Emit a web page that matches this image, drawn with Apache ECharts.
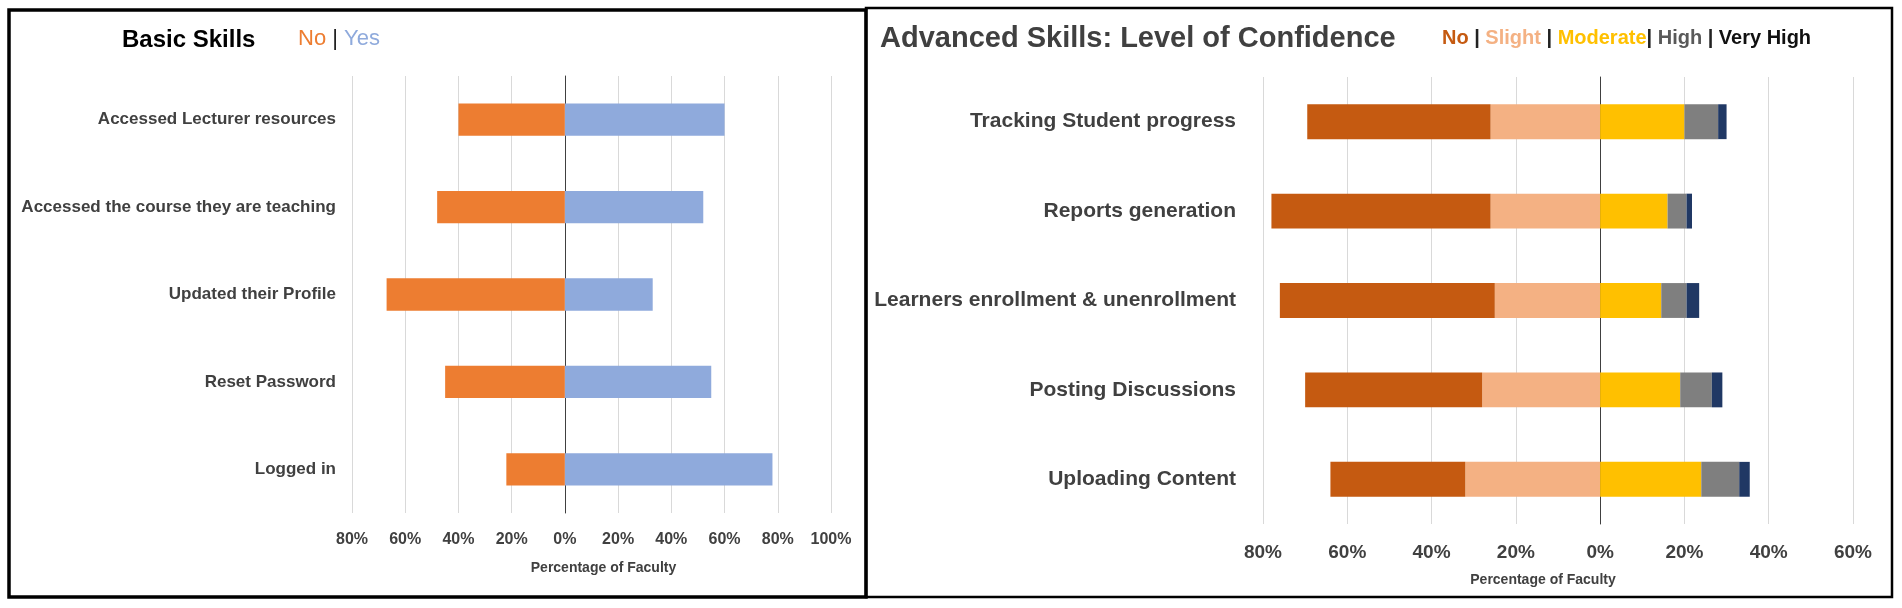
<!DOCTYPE html>
<html>
<head>
<meta charset="utf-8">
<script src="https://cdn.jsdelivr.net/npm/echarts@6/dist/echarts.min.js"></script>
<style>
  html, body { margin: 0; background: #fff; }
  #main { width: 1902px; height: 608px; }
</style>
</head>
<body>
<div id="main"></div>
<script>
// left panel: basic skills
const basicSkills = [
  "Accessed Lecturer resources",
  "Accessed the course they are teaching",
  "Updated their Profile",
  "Reset Password",
  "Logged in",
];
const basicLegend = ["No", "Yes"];
const basicNo = [40, 48, 67, 45, 22];
const basicYes = [60, 52, 33, 55, 78];
const basicRange = [-80, 100];

// right panel: advanced skills, level of confidence
const advSkills = [
  "Tracking Student progress",
  "Reports generation",
  "Learners enrollment & unenrollment",
  "Posting Discussions",
  "Uploading Content",
];
const advLegend = ["No", "Slight", "Moderate", "High", "Very High"];
const advNo = [43.5, 52, 51, 42, 32];
const advSlight = [26, 26, 25, 28, 32];
const advModerate = [20, 16, 14.5, 19, 24];
const advHigh = [8, 4.5, 6, 7.5, 9];
const advVeryHigh = [2, 1.3, 3, 2.5, 2.5];
const advRange = [-80, 60];

const tickStep = 20;

const basicColors = ["#ED7D31", "#8FAADC"];
const advColors = ["#C55A11", "#F4B183", "#FFC000", "#7F7F7F", "#203864"];
const advTextColors = ["#C55A11", "#F4B183", "#FFC000", "#595959", "#111111"];

const chart = echarts.init(document.getElementById("main"));
const font = "Liberation Sans, Arial, sans-serif";
const pct = (v) => Math.abs(v) + "%";

// legend strings like "No | Yes" built as rich text
function legendText(names, seps) {
  return names
    .map((n, i) => "{c" + i + "|" + n + "}" + (i < names.length - 1 ? "{s|" + seps[i] + "}" : ""))
    .join("");
}
function legendRich(colors, size, weight) {
  const rich = { s: { color: "#222", fontSize: size, fontWeight: weight, fontFamily: font } };
  colors.forEach((c, i) => {
    rich["c" + i] = { color: c, fontSize: size, fontWeight: weight, fontFamily: font };
  });
  return rich;
}

function valueAxis(gridIndex, range, fontSize, nameSize, nameGap, namePad) {
  return {
    type: "value",
    gridIndex: gridIndex,
    min: range[0],
    max: range[1],
    interval: tickStep,
    axisLine: { show: false },
    axisTick: { show: false },
    splitLine: { lineStyle: { color: "#D9D9D9", width: 1 } },
    axisLabel: {
      formatter: pct,
      color: "#404040",
      fontWeight: "bold",
      fontSize: fontSize,
      fontFamily: font,
      margin: 19,
    },
    name: "Percentage of Faculty",
    nameLocation: "middle",
    nameGap: nameGap,
    nameTextStyle: {
      color: "#404040",
      fontWeight: "bold",
      fontSize: nameSize,
      fontFamily: font,
      padding: namePad,
    },
  };
}

function catAxis(gridIndex, data, fontSize, margin) {
  return {
    type: "category",
    gridIndex: gridIndex,
    data: data,
    inverse: true,
    axisTick: { show: false },
    axisLine: { show: true, onZero: true, lineStyle: { color: "#404040", width: 1 } },
    axisLabel: {
      color: "#404040",
      fontWeight: "bold",
      fontSize: fontSize,
      fontFamily: font,
      margin: margin,
    },
  };
}

const neg = (arr) => arr.map((v) => -v);

chart.setOption({
  backgroundColor: "#fff",
  animation: false,
  title: [
    {
      text: "Basic Skills",
      left: 117,
      top: 23,
      textStyle: { color: "#000", fontWeight: "bold", fontSize: 24, fontFamily: font },
    },
    {
      text: legendText(basicLegend, [" | "]),
      left: 293,
      top: 23,
      textStyle: { rich: legendRich(basicColors, 22, "normal") },
    },
    {
      text: "Advanced Skills: Level of Confidence",
      left: 875,
      top: 19,
      textStyle: { color: "#404040", fontWeight: "bold", fontSize: 29, fontFamily: font },
    },
    {
      text: legendText(advLegend, [" | ", " | ", "| ", " | "]),
      left: 1437,
      top: 23,
      textStyle: { rich: legendRich(advTextColors, 20, "bold") },
    },
  ],
  grid: [
    { left: 352, width: 479, top: 76, height: 437 },
    { left: 1263, width: 590, top: 77, height: 447 },
  ],
  xAxis: [
    valueAxis(0, basicRange, 16, 14, 48, [0, 0, 0, 24]),
    valueAxis(1, advRange, 19, 14, 49, [0, 30, 0, 0]),
  ],
  yAxis: [catAxis(0, basicSkills, 17, 16), catAxis(1, advSkills, 21, 27)],
  series: [
    {
      name: "Basic No",
      type: "bar",
      stack: "basic",
      xAxisIndex: 0,
      yAxisIndex: 0,
      barWidth: "37%",
      itemStyle: { color: basicColors[0] },
      data: neg(basicNo),
    },
    {
      name: "Basic Yes",
      type: "bar",
      stack: "basic",
      xAxisIndex: 0,
      yAxisIndex: 0,
      barWidth: "37%",
      itemStyle: { color: basicColors[1] },
      data: basicYes,
    },
    // negative side stacks outward from zero: Slight first, then No
    {
      name: "Slight",
      type: "bar",
      stack: "adv",
      xAxisIndex: 1,
      yAxisIndex: 1,
      barWidth: "39%",
      itemStyle: { color: advColors[1] },
      data: neg(advSlight),
    },
    {
      name: "No",
      type: "bar",
      stack: "adv",
      xAxisIndex: 1,
      yAxisIndex: 1,
      barWidth: "39%",
      itemStyle: { color: advColors[0] },
      data: neg(advNo),
    },
    {
      name: "Moderate",
      type: "bar",
      stack: "adv",
      xAxisIndex: 1,
      yAxisIndex: 1,
      barWidth: "39%",
      itemStyle: { color: advColors[2] },
      data: advModerate,
    },
    {
      name: "High",
      type: "bar",
      stack: "adv",
      xAxisIndex: 1,
      yAxisIndex: 1,
      barWidth: "39%",
      itemStyle: { color: advColors[3] },
      data: advHigh,
    },
    {
      name: "Very High",
      type: "bar",
      stack: "adv",
      xAxisIndex: 1,
      yAxisIndex: 1,
      barWidth: "39%",
      itemStyle: { color: advColors[4] },
      data: advVeryHigh,
    },
  ],
  // panel frames
  graphic: [
    {
      type: "rect",
      shape: { x: 9, y: 10, width: 857, height: 587 },
      style: { fill: "none", stroke: "#000", lineWidth: 3.5 },
      z: 100,
    },
    {
      type: "rect",
      shape: { x: 866, y: 8, width: 1026, height: 589 },
      style: { fill: "none", stroke: "#000", lineWidth: 2.5 },
      z: 100,
    },
  ],
});
</script>
</body>
</html>
